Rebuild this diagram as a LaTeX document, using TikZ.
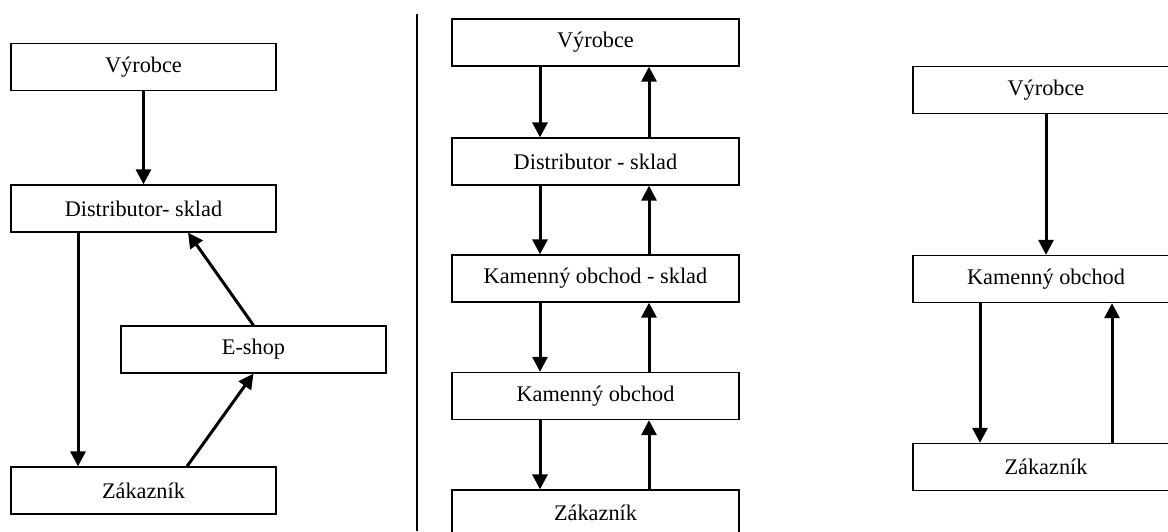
\documentclass[tikz,border=0pt]{standalone}
\usepackage{fontspec}
\setmainfont{Liberation Serif}
\usetikzlibrary{arrows.meta}
\begin{document}
\begin{tikzpicture}[x=1pt,y=-1pt,
  box/.style={draw,line width=1.3pt,fill=white,inner sep=0pt,minimum height=47pt,
    font=\fontsize{22.3}{26}\selectfont},
  lbox/.style={box,minimum width=265pt},
  mbox/.style={box,minimum width=287pt},
  rbox/.style={box,minimum width=266pt},
  arr/.style={line width=3pt,-{Triangle[width=15pt,length=15pt]}}]
\clip (0,0) rectangle (1168,531);
\fill[white] (0,0) rectangle (1168,531);
% divider
\draw[line width=1.3pt] (417,14) -- (417,531);
% left panel
\node[lbox] (lv) at (143.5,67) {Výrobce};
\node[lbox] (ld) at (143.5,208.5) {Distributor- sklad};
\node[lbox] (le) at (253.5,349.5) {E-shop};
\node[lbox] (lz) at (143.5,490.5) {Zákazník};
\draw[arr] (lv.south) -- (ld.north);
\draw[arr] (ld.south -| 78,0) -- (lz.north -| 78,0);
\draw[arr] (le.north) -- (ld.south -| 188,0);
\draw[arr] (lz.north -| 187,0) -- (le.south);
% middle panel
\node[mbox] (mv) at (595.5,42.5) {Výrobce};
\node[mbox] (md) at (595.5,161.5) {Distributor - sklad};
\node[mbox] (mks) at (595.5,278.5) {Kamenný obchod - sklad};
\node[mbox] (mk) at (595.5,396) {Kamenný obchod};
\node[mbox,minimum height=46pt] (mz) at (595.5,513) {Zákazník};
\draw[arr] (mv.south -| 540,0) -- (md.north -| 540,0);
\draw[arr] (md.north -| 649,0) -- (mv.south -| 649,0);
\draw[arr] (md.south -| 540,0) -- (mks.north -| 540,0);
\draw[arr] (mks.north -| 649,0) -- (md.south -| 649,0);
\draw[arr] (mks.south -| 540,0) -- (mk.north -| 540,0);
\draw[arr] (mk.north -| 649,0) -- (mks.south -| 649,0);
\draw[arr] (mk.south -| 540,0) -- (mz.north -| 540,0);
\draw[arr] (mz.north -| 649,0) -- (mk.south -| 649,0);
% right panel
\node[rbox] (rv) at (1046,90) {Výrobce};
\node[rbox] (rk) at (1046,279) {Kamenný obchod};
\node[rbox] (rz) at (1046,467) {Zákazník};
\draw[arr] (rv.south) -- (rk.north);
\draw[arr] (rk.south -| 980,0) -- (rz.north -| 980,0);
\draw[arr] (rz.north -| 1112,0) -- (rk.south -| 1112,0);
\end{tikzpicture}
\end{document}
